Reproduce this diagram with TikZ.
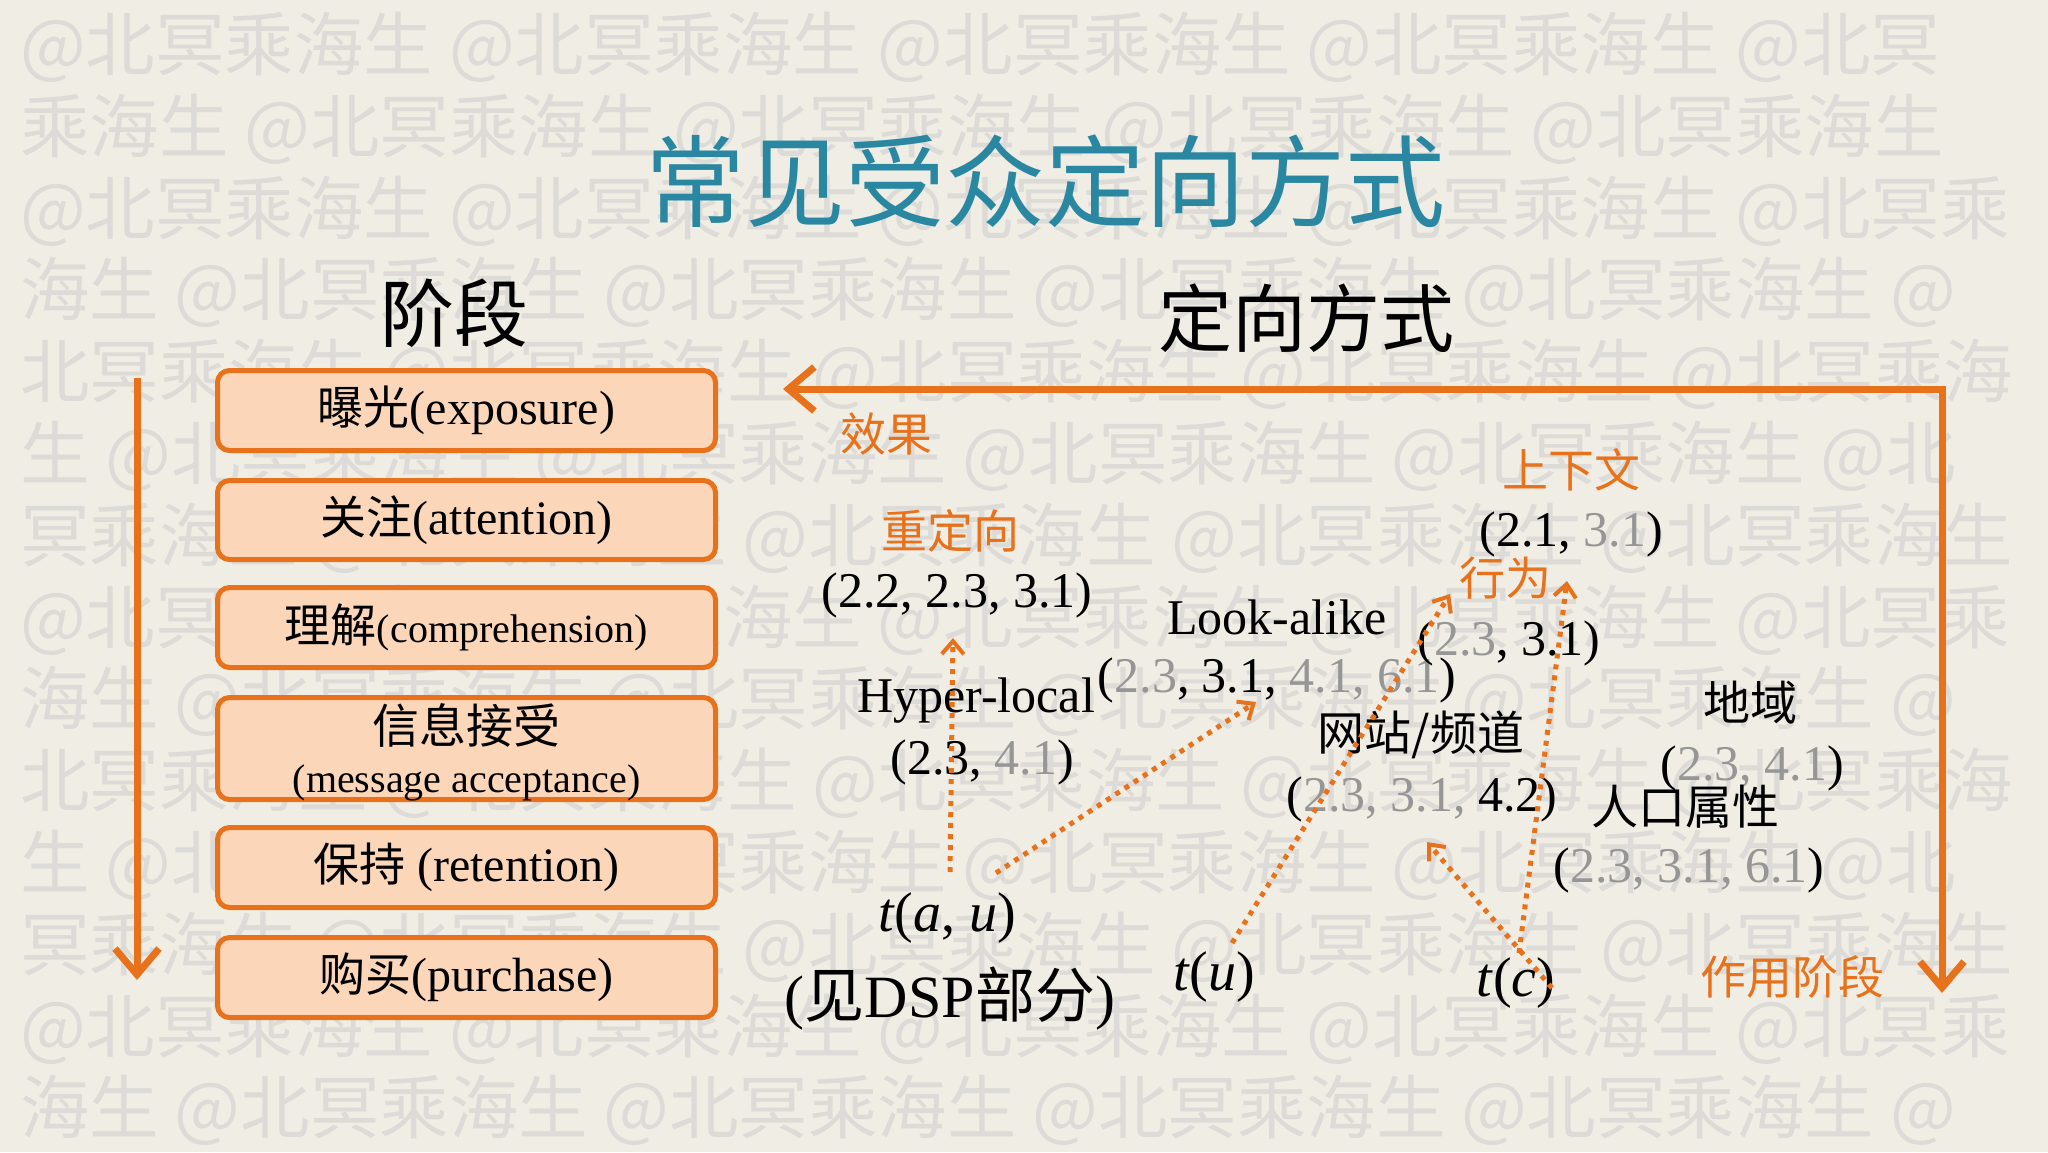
\documentclass[tikz,border=0pt]{standalone}
\usepackage{fontspec}
\setmainfont{Liberation Serif}
\newfontfamily\cjk{Noto Sans CJK SC}
\usetikzlibrary{arrows.meta}

\definecolor{paper}{RGB}{240,237,228}
\definecolor{wmgray}{RGB}{221,219,216}
\definecolor{accent}{RGB}{232,114,28}
\definecolor{peach}{RGB}{251,214,185}
\definecolor{titleblue}{RGB}{42,135,162}
\definecolor{dimnum}{RGB}{150,150,150}

\newcommand\setpx[1]{\fontsize{#1}{#1}\selectfont}
\newcommand\faded[1]{\textcolor{dimnum}{#1}}

\begin{document}
\begin{tikzpicture}[x=1pt,y=-1pt,
  every node/.style={inner sep=0pt},
  wm/.style={anchor=west, text=wmgray, font=\cjk\setpx{69.5}},
  stagebox/.style={draw=accent, line width=5pt, fill=peach,
    rounded corners=12pt, minimum width=498pt, text=black},
  headlabel/.style={font=\cjk\setpx{74}, text=black},
  orangelabel/.style={font=\cjk\setpx{46}, text=accent},
  cjklabel/.style={font=\cjk\setpx{47}, text=black},
  numlabel/.style={font=\setpx{50}, text=black},
  tlabel/.style={font=\setpx{56}, text=black},
  flow/.style={draw=accent, line width=7pt, line join=miter},
  flowtip/.tip={Straight Barb[length=26pt,width=44pt]},
  dotarrow/.style={draw=accent, line width=5pt, dash pattern=on 5pt off 6pt,
    -{Straight Barb[length=13pt,width=22pt,line width=4pt]}}
]
% page
\fill[paper] (0,0) rectangle (2048,1152);
\useasboundingbox (0,0) rectangle (2048,1152);

% watermark rows
\begin{scope}
\clip (0,0) rectangle (2048,1152);
\node[wm] (w1)  at (20,47)   {@北冥乘海生 @北冥乘海生 @北冥乘海生 @北冥乘海生 @北冥};
\node[wm] (w2)  at (20,129)  {乘海生 @北冥乘海生 @北冥乘海生 @北冥乘海生 @北冥乘海生};
\node[wm] (w3)  at (20,211)  {@北冥乘海生 @北冥乘海生 @北冥乘海生 @北冥乘海生 @北冥乘};
\node[wm] (w4)  at (20,292)  {海生 @北冥乘海生 @北冥乘海生 @北冥乘海生 @北冥乘海生 @};
\node[wm] (w5)  at (20,374)  {北冥乘海生 @北冥乘海生 @北冥乘海生 @北冥乘海生 @北冥乘海};
\node[wm] (w6)  at (20,456)  {生 @北冥乘海生 @北冥乘海生 @北冥乘海生 @北冥乘海生 @北};
\node[wm] (w7)  at (20,538)  {冥乘海生 @北冥乘海生 @北冥乘海生 @北冥乘海生 @北冥乘海生};
\node[wm] (w8)  at (20,620)  {@北冥乘海生 @北冥乘海生 @北冥乘海生 @北冥乘海生 @北冥乘};
\node[wm] (w9)  at (20,701)  {海生 @北冥乘海生 @北冥乘海生 @北冥乘海生 @北冥乘海生 @};
\node[wm] (w10) at (20,783)  {北冥乘海生 @北冥乘海生 @北冥乘海生 @北冥乘海生 @北冥乘海};
\node[wm] (w11) at (20,865)  {生 @北冥乘海生 @北冥乘海生 @北冥乘海生 @北冥乘海生 @北};
\node[wm] (w12) at (20,947)  {冥乘海生 @北冥乘海生 @北冥乘海生 @北冥乘海生 @北冥乘海生};
\node[wm] (w13) at (20,1029) {@北冥乘海生 @北冥乘海生 @北冥乘海生 @北冥乘海生 @北冥乘};
\node[wm] (w14) at (20,1110) {海生 @北冥乘海生 @北冥乘海生 @北冥乘海生 @北冥乘海生 @};
\end{scope}

% headings
\node[font=\cjk\setpx{100}, text=titleblue] (title) at (1045,181) {常见受众定向方式};
\node[headlabel] (stagehead) at (454,313) {阶段};
\node[headlabel] (methodhead) at (1306,318) {定向方式};

% stage boxes
\node[stagebox, minimum height=80pt, font=\setpx{48}] (s1) at (466.5,410.5) {{\cjk\setpx{46}曝光}(exposure)};
\node[stagebox, minimum height=79pt, font=\setpx{48}] (s2) at (466.5,520) {{\cjk\setpx{46}关注}(attention)};
\node[stagebox, minimum height=80pt, font=\setpx{40}] (s3) at (466.5,627.5) {{\cjk\setpx{46}理解}(comprehension)};
\node[stagebox, minimum height=102pt] (s4) at (466.5,748.5) {};
\node[font=\cjk\setpx{47}] (s4a) at (466.5,725) {信息接受};
\node[font=\setpx{40}] (s4b) at (466.5,783) {(message acceptance)};
\node[stagebox, minimum height=80pt, font=\setpx{48}] (s5) at (466.5,867.5) {{\cjk\setpx{46}保持} (retention)};
\node[stagebox, minimum height=80pt, font=\setpx{48}] (s6) at (466.5,977.5) {{\cjk\setpx{46}购买}(purchase)};

% stage order arrow
\coordinate (stagetop) at (137,378);
\coordinate (stagebottom) at (137,980);
\draw[flow, -{flowtip}] (stagetop) -- (stagebottom);

% feedback arrow: effect to the left, acting stage downwards
\coordinate (effectend) at (783,389);
\coordinate (loopcorner) at (1942,389);
\coordinate (actend) at (1942,993);
\draw[flow, {flowtip}-{flowtip}] (effectend) -- (loopcorner) -- (actend);

% orange labels
\node[orangelabel] (effect) at (886,434) {效果};
\node[orangelabel] (retarget) at (950,531) {重定向};
\node[orangelabel] (context) at (1571,470) {上下文};
\node[orangelabel] (behavior) at (1505,578) {行为};
\node[orangelabel] (actstage) at (1792,977) {作用阶段};

% targeting methods
\node[numlabel] (retargetnum) at (957,595) {(2.2, 2.3, 3.1)};
\node[numlabel] (lookalike) at (1277,617) {Look-alike};
\node[numlabel] (hyperlocal) at (976,701) {Hyper-local};
\node[numlabel] (lookalikenum) at (1277,680) {(\faded{2.3}, 3.1, \faded{4.1, 6.1})};
\node[numlabel] (hyperlocalnum) at (982,762) {(2.3, \faded{4.1})};
\node[numlabel] (contextnum) at (1571,534) {(2.1, \faded{3.1})};
\node[numlabel] (behaviornum) at (1509,643) {(\faded{2.3}, 3.1)};
\node[cjklabel] (site) at (1421,735) {网站/频道};
\node[numlabel] (sitenum) at (1422,799) {(\faded{2.3, 3.1,} 4.2)};
\node[cjklabel] (geo) at (1750,703) {地域};
\node[numlabel] (geonum) at (1752,768) {(\faded{2.3, 4.1})};
\node[cjklabel] (demo) at (1685,807) {人口属性};
\node[numlabel] (demonum) at (1689,870) {(\faded{2.3, 3.1, 6.1})};

% sources
\node[tlabel] (tau) at (947,918) {\textit{t}(\textit{a}, \textit{u})};
\node[font=\setpx{60}] (dsp) at (950,999) {({\cjk 见}DSP{\cjk 部分})};
\node[tlabel] (tu) at (1214,977) {\textit{t}(\textit{u})};
\node[tlabel] (tc) at (1516,983) {\textit{t}(\textit{c})};

% dotted derivation arrows
\coordinate (tauup) at (950,872);
\coordinate (tauright) at (996,873);
\coordinate (tuup) at (1232,943);
\coordinate (tcup) at (1519,953);
\coordinate (tcleft) at (1552,988);
\coordinate (retargettip) at (953,638);
\coordinate (lookaliketip) at (1256,702);
\coordinate (behaviortip) at (1450,594);
\coordinate (behaviortipb) at (1567,581);
\coordinate (sitetip) at (1427,842);

\draw[dotarrow] (tauup) -- (retargettip);
\draw[dotarrow] (tauright) -- (lookaliketip);
\draw[dotarrow] (tuup) -- (behaviortip);
\draw[dotarrow] (tcup) -- (behaviortipb);
\draw[dotarrow] (tcleft) -- (sitetip);
\end{tikzpicture}
\end{document}
